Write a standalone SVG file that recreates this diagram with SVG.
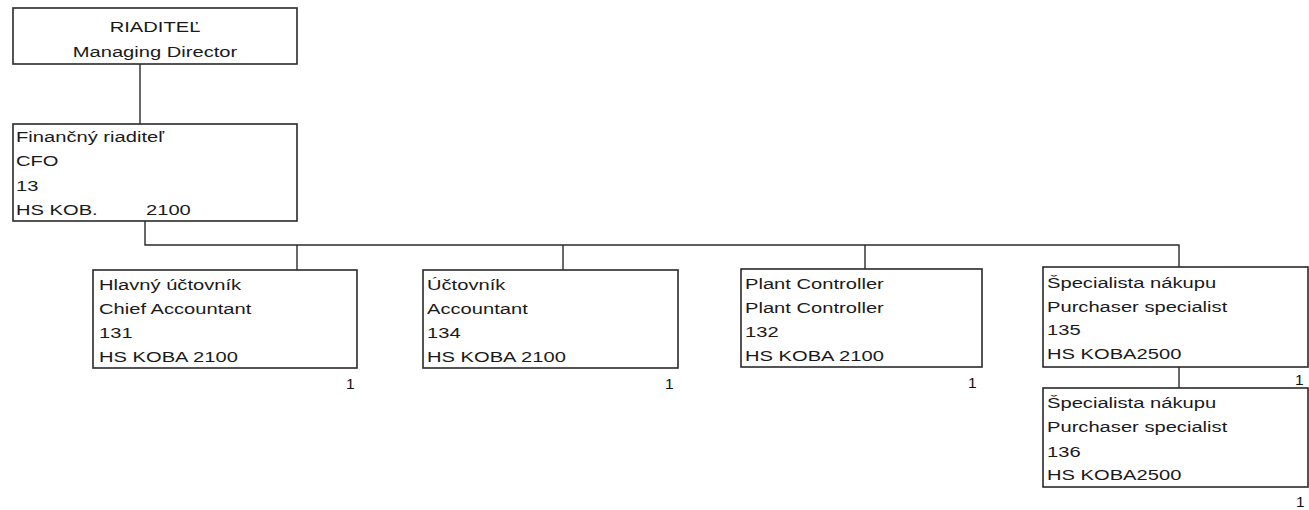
<svg xmlns="http://www.w3.org/2000/svg" width="1309" height="510" viewBox="0 0 1309 510">
<style>
rect.box{fill:#fff;stroke:#2a2a2a;stroke-width:1.6}
.con{fill:none;stroke:#2a2a2a;stroke-width:1.4}
text{font-family:"Liberation Sans",Arial,sans-serif;font-size:15.5px;fill:#1a1a1a}
.c{text-anchor:middle}
.n{font-size:15.5px;fill:#111}
</style>
<rect width="1309" height="510" fill="#fff"/>
<g id="connectors">
<path class="con" d="M140,64 V124"/>
<path class="con" d="M145,221 V245 H1179 V267"/>
<path class="con" d="M297,245 V270"/>
<path class="con" d="M563,245 V270"/>
<path class="con" d="M865,245 V269"/>
<path class="con" d="M1179,367 V388"/>
</g>
<g id="n-riaditel">
<rect class="box" x="13" y="8" width="284" height="56"/>
<g transform="translate(155,32) scale(1.3,1)">
<text class="c" x="0" y="0">RIADITEĽ</text>
<text class="c" x="0" y="25">Managing Director</text>
</g>
</g>
<g id="n-cfo">
<rect class="box" x="13" y="124" width="284" height="97"/>
<g transform="translate(16,142) scale(1.3,1)">
<text x="0" y="0">Finančný riaditeľ</text>
<text x="0" y="24.5">CFO</text>
<text x="0" y="49">13</text>
<text x="0" y="73">HS KOB.</text>
<text x="100" y="73">2100</text>
</g>
</g>
<g id="n-131">
<rect class="box" x="93" y="270" width="264" height="98"/>
<g transform="translate(99,290) scale(1.3,1)">
<text x="0" y="0">Hlavný účtovník</text>
<text x="0" y="24">Chief Accountant</text>
<text x="0" y="48">131</text>
<text x="0" y="72">HS KOBA 2100</text>
</g>
<text class="n" x="346" y="389">1</text>
</g>
<g id="n-134">
<rect class="box" x="423" y="270" width="255" height="98"/>
<g transform="translate(427,290) scale(1.3,1)">
<text x="0" y="0">Účtovník</text>
<text x="0" y="24">Accountant</text>
<text x="0" y="48">134</text>
<text x="0" y="72">HS KOBA 2100</text>
</g>
<text class="n" x="665" y="389">1</text>
</g>
<g id="n-132">
<rect class="box" x="741" y="269" width="241" height="98"/>
<g transform="translate(745,289) scale(1.3,1)">
<text x="0" y="0">Plant Controller</text>
<text x="0" y="24">Plant Controller</text>
<text x="0" y="48">132</text>
<text x="0" y="72">HS KOBA 2100</text>
</g>
<text class="n" x="968" y="388">1</text>
</g>
<g id="n-135">
<rect class="box" x="1043" y="267" width="265" height="100"/>
<g transform="translate(1047,288) scale(1.3,1)">
<text x="0" y="0">Špecialista nákupu</text>
<text x="0" y="24">Purchaser specialist</text>
<text x="0" y="47.5">135</text>
<text x="0" y="71">HS KOBA2500</text>
</g>
<text class="n" x="1295" y="385">1</text>
</g>
<g id="n-136">
<rect class="box" x="1043" y="388" width="265" height="99"/>
<g transform="translate(1047,408) scale(1.3,1)">
<text x="0" y="0">Špecialista nákupu</text>
<text x="0" y="24.5">Purchaser specialist</text>
<text x="0" y="49">136</text>
<text x="0" y="72">HS KOBA2500</text>
</g>
<text class="n" x="1296" y="507">1</text>
</g>
</svg>
